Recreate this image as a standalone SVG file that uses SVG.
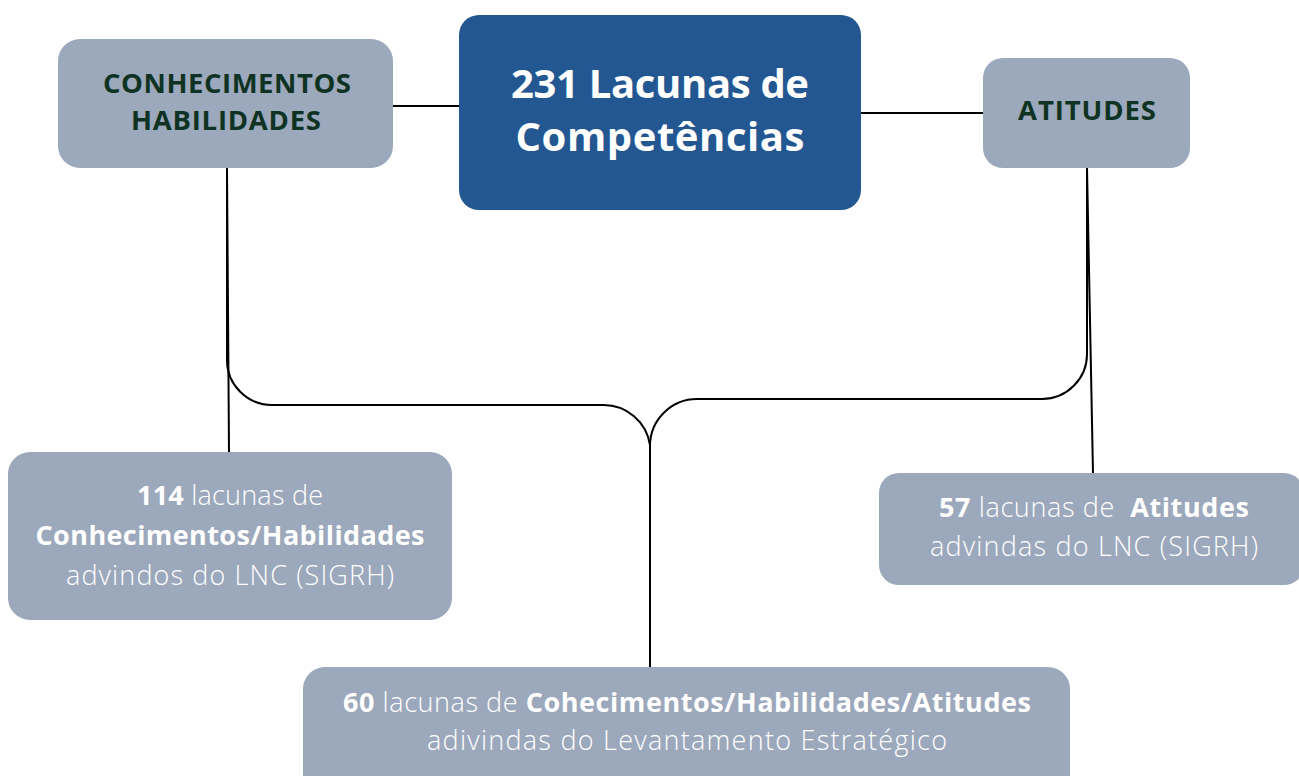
<svg xmlns="http://www.w3.org/2000/svg" width="1299" height="776" viewBox="0 0 1299 776">
<style>
.box{fill:#9CA8BB}
.main{fill:#235792}
.hd{font-family:"Open Sans","Liberation Sans",sans-serif;font-weight:700;fill:#0F3323;text-anchor:middle;font-size:27.5px}
.ttl{font-family:"Open Sans","Liberation Sans",sans-serif;font-weight:700;fill:#ffffff;text-anchor:middle;font-size:40px}
.tx{font-family:"Open Sans","Liberation Sans",sans-serif;font-weight:300;fill:#ffffff;text-anchor:middle;font-size:27px}
.b{font-weight:700}
.ln{fill:none;stroke:#000;stroke-width:2}
</style>
<rect width="1299" height="776" fill="#fff"/>
<g id="connectors">
<line class="ln" x1="393" y1="106" x2="459" y2="106"/>
<line class="ln" x1="861" y1="113" x2="983" y2="113"/>
<line class="ln" x1="227" y1="168" x2="229" y2="452"/>
<line class="ln" x1="1087" y1="168" x2="1093" y2="473"/>
<path class="ln" d="M227,168 V360 A45,45 0 0 0 272,405 H603 A47,47 0 0 1 650,445"/>
<path class="ln" d="M1087,168 V354 A45,45 0 0 1 1042,399 H697 A47,47 0 0 0 650,445 V667"/>
</g>
<g id="n-conhecimentos">
<rect class="box" x="58" y="39" width="335" height="129" rx="22"/>
<text class="hd" x="227" y="93" textLength="248" lengthAdjust="spacing">CONHECIMENTOS</text>
<text class="hd" x="226" y="130" textLength="190" lengthAdjust="spacing">HABILIDADES</text>
</g>
<g id="n-main">
<rect class="main" x="459" y="15" width="402" height="195" rx="20"/>
<text class="ttl" x="660" y="98" textLength="298" lengthAdjust="spacing">231 Lacunas de</text>
<text class="ttl" x="660" y="151" textLength="289" lengthAdjust="spacing">Competências</text>
</g>
<g id="n-atitudes">
<rect class="box" x="983" y="58" width="207" height="110" rx="20"/>
<text class="hd" x="1087" y="120" textLength="138" lengthAdjust="spacing">ATITUDES</text>
</g>
<g id="n-114">
<rect class="box" x="8" y="452" width="444" height="168" rx="22"/>
<text class="tx" x="230" y="505" textLength="186" lengthAdjust="spacing"><tspan class="b">114</tspan> lacunas de</text>
<text class="tx b" x="230" y="545" textLength="389" lengthAdjust="spacing">Conhecimentos/Habilidades</text>
<text class="tx" x="230" y="585" textLength="328" lengthAdjust="spacing">advindos do LNC (SIGRH)</text>
</g>
<g id="n-57">
<rect class="box" x="879" y="473" width="425" height="112" rx="20"/>
<text class="tx" x="1094" y="517" textLength="310" lengthAdjust="spacing" xml:space="preserve"><tspan class="b">57</tspan> lacunas de  <tspan class="b">Atitudes</tspan></text>
<text class="tx" x="1094" y="556" textLength="328" lengthAdjust="spacing">advindas do LNC (SIGRH)</text>
</g>
<g id="n-60">
<rect class="box" x="303" y="667" width="767" height="130" rx="22"/>
<text class="tx" x="687" y="712" textLength="688" lengthAdjust="spacing"><tspan class="b">60</tspan> lacunas de <tspan class="b">Cohecimentos/Habilidades/Atitudes</tspan></text>
<text class="tx" x="687" y="750" textLength="520" lengthAdjust="spacing">adivindas do Levantamento Estratégico</text>
</g>
</svg>
